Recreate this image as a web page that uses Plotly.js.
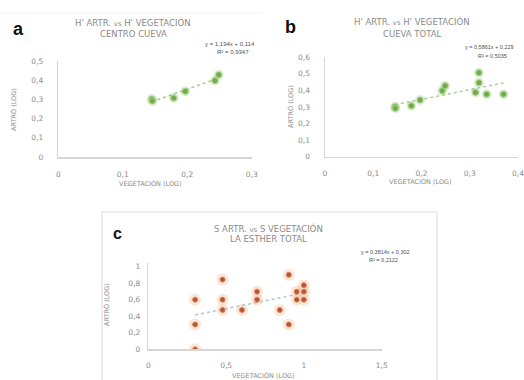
<!DOCTYPE html>
<html><head><meta charset="utf-8">
<script src="https://cdn.plot.ly/plotly-3.0.1.min.js"></script>
<style>html,body{margin:0;padding:0;background:#fff}#chart{width:524px;height:380px}</style>
</head><body><div id="chart"></div>
<script>
// ---- data ----
const aX=[0.145,0.146,0.179,0.197,0.243,0.249];
const aY=[0.302,0.292,0.307,0.342,0.398,0.428];
const bX=[0.145,0.146,0.179,0.197,0.243,0.249,0.312,0.319,0.319,0.335,0.370];
const bY=[0.302,0.292,0.307,0.342,0.398,0.428,0.388,0.447,0.507,0.377,0.377];
const cX=[0.301,0.301,0.301,0.477,0.477,0.477,0.602,0.699,0.699,0.845,0.903,0.903,0.954,0.954,1,1,1];
const cY=[0.602,0.301,0,0.845,0.602,0.477,0.477,0.699,0.602,0.477,0.903,0.301,0.699,0.602,0.778,0.699,0.602];
const aXticks=[0,0.1,0.2,0.3], aYticks=[0,0.1,0.2,0.3,0.4,0.5];
const bXticks=[0,0.1,0.2,0.3,0.4], bYticks=[0,0.1,0.2,0.3,0.4,0.5,0.6];
const cXticks=[0,0.5,1,1.5], cYticks=[0,0.2,0.4,0.6,0.8,1];
const titleA=["H' ARTR. <span style='font-size:7px'>vs</span> H' VEGETACIÓN","CENTRO CUEVA"];
const titleB=["H' ARTR. <span style='font-size:7px'>vs</span> H' VEGETACIÓN","CUEVA TOTAL"];
const titleC=["S ARTR. <span style='font-size:7px'>vs</span> S VEGETACIÓN","LA ESTHER TOTAL"];
const xTitle="VEGETACIÓN (LOG)";
const yTitle="ARTRÓ (LOG)";
const letters=["a","b","c"];

// ---- helpers ----
const W=524,H=380;
const px=x=>x/W, py=y=>1-y/H;
function fit(xs,ys){
  const n=xs.length, mx=xs.reduce((s,v)=>s+v,0)/n, my=ys.reduce((s,v)=>s+v,0)/n;
  let sxy=0,sxx=0,syy=0;
  for(let i=0;i<n;i++){sxy+=(xs[i]-mx)*(ys[i]-my);sxx+=(xs[i]-mx)**2;syy+=(ys[i]-my)**2;}
  const m=sxy/sxx, b=my-m*mx;
  return {m,b,r2:sxy*sxy/(sxx*syy),x0:Math.min(...xs),x1:Math.max(...xs)};
}
const fmt=(v,p)=>String(+v.toPrecision(p)).replace('.',',');
const eq=f=>"y = "+fmt(f.m,4)+"x + "+fmt(f.b,3);
const r2=f=>"R² = "+fmt(f.r2,4);

const fa=fit(aX,aY), fb=fit(bX,bY), fc=fit(cX,cY);

const green='#70ad47';
function pts(xs,ys,xa,ya,core,halo,cs,hs,edge){
  return [
    {x:xs,y:ys,xaxis:xa,yaxis:ya,type:'scatter',mode:'markers',hoverinfo:'skip',
     marker:{size:hs,color:halo,line:{width:0}}},
    {x:xs,y:ys,xaxis:xa,yaxis:ya,type:'scatter',mode:'markers',
     marker:{size:cs,color:core,line:{width:1,color:edge}}}
  ];
}
function trend(f,xa,ya,color){
  return {x:[f.x0,f.x1],y:[f.m*f.x0+f.b,f.m*f.x1+f.b],xaxis:xa,yaxis:ya,type:'scatter',mode:'lines',
    line:{color:color,width:1.5,dash:'dot'},hoverinfo:'skip'};
}
const data=[
  trend(fa,'x','y','#a9d18e'),
  ...pts(aX,aY,'x','y',green,'rgba(112,173,71,0.22)',6,10,'#a9d18e'),
  trend(fb,'x2','y2','#a9d18e'),
  ...pts(bX,bY,'x2','y2',green,'rgba(112,173,71,0.22)',6,10,'#a9d18e'),
  trend(fc,'x3','y3','#a9c6d4'),
  ...pts(cX,cY,'x3','y3','#b4553a','rgba(244,177,131,0.32)',5,12,'#d9825a')
];

const tickF={family:'DejaVu Sans, sans-serif',size:7.5,color:'#8c8c8c'};
function ax(domain,range,tv,standoff,anchor){
  return {domain:domain,range:range,tickmode:'array',tickvals:tv,showgrid:false,zeroline:false,anchor:anchor,
    showline:true,linecolor:'#d6d6d6',linewidth:1.5,ticks:'',tickfont:tickF,
    ticklabelstandoff:standoff,ticklabeloverflow:'allow',fixedrange:true};
}
const layout={
  width:W,height:H,margin:{l:0,r:0,t:0,b:0},paper_bgcolor:'#fff',plot_bgcolor:'rgba(0,0,0,0)',
  separators:',.',showlegend:false,
  xaxis:ax([px(58.3),px(251.7)],[0,0.3],aXticks,9,'y'),
  yaxis:ax([py(157),py(61)],[0,0.5],aYticks,12,'x'),
  xaxis2:ax([px(325),px(518)],[0,0.4],bXticks,9,'y2'),
  yaxis2:ax([py(156.7),py(57.3)],[0,0.6],bYticks,12,'x2'),
  xaxis3:ax([px(148.3),px(381.7)],[0,1.5],cXticks,8,'y3'),
  yaxis3:ax([py(349.3),py(262.7)],[0,1.05],cYticks,5,'x3'),
  shapes:[
    {type:'rect',xref:'paper',yref:'paper',x0:px(102),x1:px(437),y0:py(383),y1:py(212),
     line:{color:'#d9d9d9',width:1}},
    {type:'line',xref:'paper',yref:'paper',x0:px(0),x1:px(262),y0:py(13),y1:py(13),
     line:{color:'#f2f2f2',width:1}}
  ],
  annotations:[]
};
const A=layout.annotations;
function txt(text,x,y,size,color,opts){
  A.push(Object.assign({text:text,xref:'paper',yref:'paper',x:px(x),y:py(y),showarrow:false,
    xanchor:'center',yanchor:'middle',font:{family:'DejaVu Sans, sans-serif',size:size,color:color}},opts||{}));
}
const letF=s=>({font:{family:'Liberation Sans, Arial, sans-serif',size:s,color:'#111',weight:'bold'}});
txt(letters[0],18,29,18,'#111',letF(18));
txt(letters[1],290,27,18,'#111',letF(18));
txt(letters[2],117,233,16,'#111',letF(16));
// titles
txt(titleA[0],133,23,8.5,'#8a8a8a'); txt(titleA[1],133,34,8.5,'#8a8a8a');
txt(titleB[0],412,22,8.5,'#8a8a8a'); txt(titleB[1],412,34,8.5,'#8a8a8a');
txt(titleC[0],268,228,8.5,'#8a8a8a'); txt(titleC[1],268,239,8.5,'#8a8a8a');
// equations
const eqF=(s)=>({font:{family:'Liberation Sans, Arial, sans-serif',size:s,color:'#505050'}});
txt(eq(fa),230,44,6,'#505050',eqF(6)); txt(r2(fa),233,52,6,'#505050',eqF(6));
txt(eq(fb),489,47,5.5,'#505050',eqF(5.5)); txt(r2(fb),492,56,5.5,'#505050',eqF(5.5));
txt(eq(fc),385,252,5.5,'#505050',eqF(5.5)); txt(r2(fc),383,260,5.5,'#505050',eqF(5.5));
// axis titles
txt(xTitle,150,183,6.5,'#8c8c8c'); txt(xTitle,420,182,6.5,'#8c8c8c'); txt(xTitle,263,375,6.5,'#8c8c8c');
txt(yTitle,13,110,6.5,'#8c8c8c',{textangle:-90}); txt(yTitle,290,107,6.5,'#8c8c8c',{textangle:-90});
txt(yTitle,106,305,6.5,'#8c8c8c',{textangle:-90});

Plotly.newPlot('chart',data,layout,{displayModeBar:false,staticPlot:true});
</script></body></html>
